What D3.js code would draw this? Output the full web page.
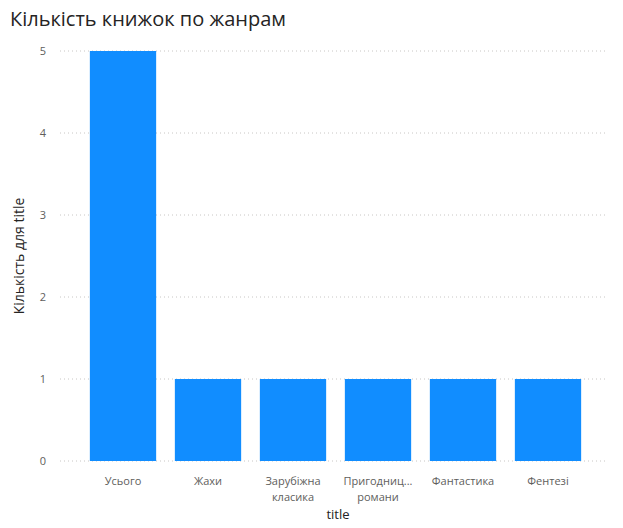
<!DOCTYPE html>
<html><head><meta charset="utf-8">
<script src="https://cdn.jsdelivr.net/npm/d3@7"></script>
<style>body{margin:0;background:#fff;font-family:"Segoe UI","Open Sans",sans-serif}</style>
</head><body><svg id="c" width="623" height="528"></svg>
<script>
const categories=[["Усього"],["Жахи"],["Зарубіжна","класика"],["Пригодниц...","романи"],["Фантастика"],["Фентезі"]];
const values=[5,1,1,1,1,1];
const yTicks=[0,1,2,3,4,5];
const svg=d3.select("#c");
const x=d3.scaleBand().domain(d3.range(categories.length)).range([80.5,590.5]).paddingInner(0.22).paddingOuter(0.11);
const y=d3.scaleLinear().domain([0,5]).range([461,51]);
svg.append("text").attr("x",10).attr("y",26).attr("font-size",20).attr("fill","#252423").text("Кількість книжок по жанрам");
svg.append("g").selectAll("line").data(yTicks).join("line")
 .attr("x1",60).attr("x2",606).attr("y1",d=>y(d)).attr("y2",d=>y(d))
 .attr("stroke","#C8C6C4").attr("stroke-dasharray","1,3");
svg.append("g").selectAll("text").data(yTicks).join("text")
 .attr("x",46).attr("y",d=>y(d)+4).attr("text-anchor","end").attr("font-size",11).attr("fill","#605E5C").text(d=>d);
svg.append("g").selectAll("rect").data(values).join("rect")
 .attr("x",(d,i)=>x(i)).attr("width",x.bandwidth()).attr("y",d=>y(d)).attr("height",d=>y(0)-y(d)).attr("fill","#118DFF");
const g=svg.append("g").selectAll("text").data(categories).join("text")
 .attr("x",(d,i)=>x(i)+x.bandwidth()/2).attr("y",485).attr("text-anchor","middle").attr("font-size",11).attr("fill","#605E5C");
g.selectAll("tspan").data(d=>d).join("tspan").attr("x",function(){return this.parentNode.getAttribute("x")}).attr("dy",(d,i)=>i?16:0).text(d=>d);
svg.append("text").attr("x",338).attr("y",519).attr("text-anchor","middle").attr("font-size",13).attr("fill","#252423").text("title");
svg.append("text").attr("transform","translate(24,256) rotate(-90)").attr("text-anchor","middle").attr("font-size",14).attr("fill","#252423").text("Кількість для title");
</script></body></html>
